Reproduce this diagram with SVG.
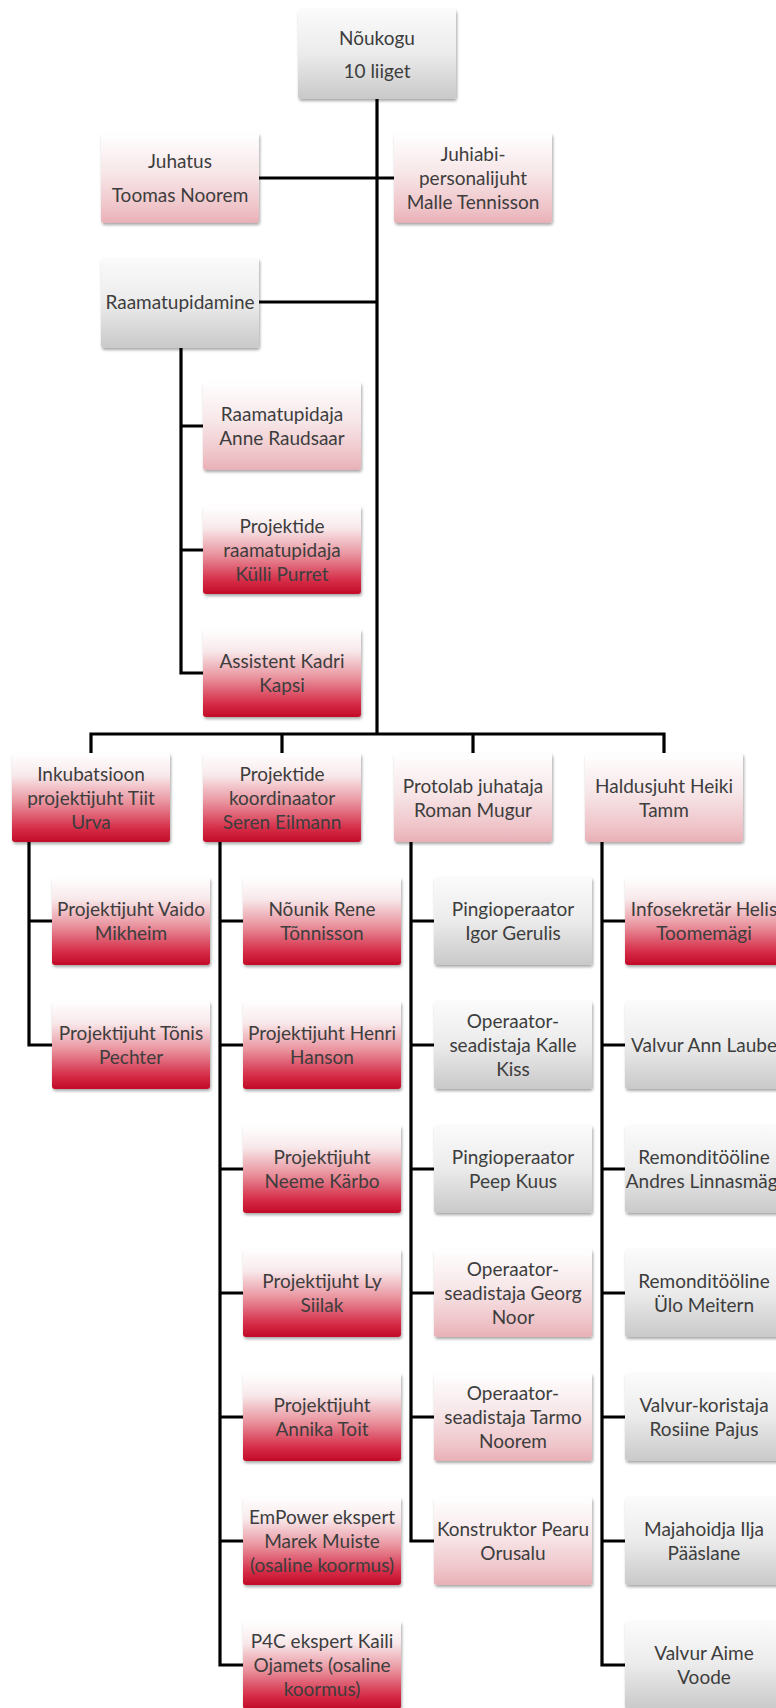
<svg xmlns="http://www.w3.org/2000/svg" width="776" height="1708" viewBox="0 0 776 1708">
<defs>
<linearGradient id="gRed" x1="0" y1="0" x2="0" y2="1">
<stop offset="0" stop-color="#ffffff"/>
<stop offset="0.25" stop-color="#f8e9eb"/>
<stop offset="0.55" stop-color="#e9949f"/>
<stop offset="0.85" stop-color="#d52c47"/>
<stop offset="1" stop-color="#c20b28"/>
</linearGradient>
<linearGradient id="gPink" x1="0" y1="0" x2="0" y2="1">
<stop offset="0" stop-color="#ffffff"/>
<stop offset="0.45" stop-color="#f7e6e8"/>
<stop offset="0.85" stop-color="#eec2c7"/>
<stop offset="1" stop-color="#e8b0b7"/>
</linearGradient>
<linearGradient id="gGrey" x1="0" y1="0" x2="0" y2="1">
<stop offset="0" stop-color="#fbfbfb"/>
<stop offset="0.5" stop-color="#ebebeb"/>
<stop offset="1" stop-color="#c9c9c9"/>
</linearGradient>
<filter id="sh" x="-10%" y="-10%" width="120%" height="130%">
<feDropShadow dx="1" dy="2" stdDeviation="1.5" flood-color="#000" flood-opacity="0.35"/>
</filter>
</defs>
<style>
rect.b{rx:3;ry:3;filter:url(#sh)}
.red{fill:url(#gRed)}
.pink{fill:url(#gPink)}
.grey{fill:url(#gGrey)}
text{font-family:Lato,"Liberation Sans",sans-serif;font-size:19px;fill:#3d3d3d;text-anchor:middle}
#connectors path{fill:none;stroke:#000;stroke-width:3.2;stroke-linejoin:miter}
</style>
<rect width="776" height="1708" fill="#fff"/>
<g id="connectors">
<path d="M377 99V734"/>
<path d="M259 178H394"/>
<path d="M259 302H377"/>
<path d="M181 348V673H203M181 426H203M181 550H203"/>
<path d="M91 753V734H664V753M282 734V753M473 734V753"/>
<path d="M29 842V1045H52M29 921H52"/>
<path d="M220 842V1665H243M220 921H243M220 1045H243M220 1169H243M220 1293H243M220 1417H243M220 1541H243"/>
<path d="M411 842V1541H434M411 921H434M411 1045H434M411 1169H434M411 1293H434M411 1417H434"/>
<path d="M602 842V1665H625M602 921H625M602 1045H625M602 1169H625M602 1293H625M602 1417H625M602 1541H625"/>
</g>
<g id="noukogu"><rect class="b grey" x="298" y="9" width="158" height="90"/><text x="377" y="45">Nõukogu</text><text x="377" y="78">10 liiget</text></g>
<g id="juhatus"><rect class="b pink" x="101" y="133" width="158" height="90"/><text x="180" y="168">Juhatus</text><text x="180" y="202">Toomas Noorem</text></g>
<g id="juhiabi"><rect class="b pink" x="394" y="133" width="158" height="90"/><text x="473" y="161">Juhiabi-</text><text x="473" y="185">personalijuht</text><text x="473" y="209">Malle Tennisson</text></g>
<g id="raamatupidamine"><rect class="b grey" x="101" y="258" width="158" height="90"/><text x="180" y="309">Raamatupidamine</text></g>
<g id="raamatupidaja"><rect class="b pink" x="203" y="382" width="158" height="88"/><text x="282" y="421">Raamatupidaja</text><text x="282" y="445">Anne Raudsaar</text></g>
<g id="proj-raamatupidaja"><rect class="b red" x="203" y="506" width="158" height="88"/><text x="282" y="533">Projektide</text><text x="282" y="557">raamatupidaja</text><text x="282" y="581">Külli Purret</text></g>
<g id="assistent"><rect class="b red" x="203" y="629" width="158" height="88"/><text x="282" y="668">Assistent Kadri</text><text x="282" y="692">Kapsi</text></g>
<g id="inkubatsioon"><rect class="b red" x="12" y="753" width="158" height="89"/><text x="91" y="780.5">Inkubatsioon</text><text x="91" y="804.5">projektijuht Tiit</text><text x="91" y="828.5">Urva</text></g>
<g id="proj-koordinaator"><rect class="b red" x="203" y="753" width="158" height="89"/><text x="282" y="780.5">Projektide</text><text x="282" y="804.5">koordinaator</text><text x="282" y="828.5">Seren Eilmann</text></g>
<g id="protolab"><rect class="b pink" x="394" y="753" width="158" height="89"/><text x="473" y="792.5">Protolab juhataja</text><text x="473" y="816.5">Roman Mugur</text></g>
<g id="haldusjuht"><rect class="b pink" x="585" y="753" width="158" height="89"/><text x="664" y="792.5">Haldusjuht Heiki</text><text x="664" y="816.5">Tamm</text></g>
<g id="vaido"><rect class="b red" x="52" y="877" width="158" height="88"/><text x="131" y="916">Projektijuht Vaido</text><text x="131" y="940">Mikheim</text></g>
<g id="tonis"><rect class="b red" x="52" y="1001" width="158" height="88"/><text x="131" y="1040">Projektijuht Tõnis</text><text x="131" y="1064">Pechter</text></g>
<g id="rene"><rect class="b red" x="243" y="877" width="158" height="88"/><text x="322" y="916">Nõunik Rene</text><text x="322" y="940">Tõnnisson</text></g>
<g id="henri"><rect class="b red" x="243" y="1001" width="158" height="88"/><text x="322" y="1040">Projektijuht Henri</text><text x="322" y="1064">Hanson</text></g>
<g id="neeme"><rect class="b red" x="243" y="1125" width="158" height="88"/><text x="322" y="1164">Projektijuht</text><text x="322" y="1188">Neeme Kärbo</text></g>
<g id="ly"><rect class="b red" x="243" y="1249" width="158" height="88"/><text x="322" y="1288">Projektijuht Ly</text><text x="322" y="1312">Siilak</text></g>
<g id="annika"><rect class="b red" x="243" y="1373" width="158" height="88"/><text x="322" y="1412">Projektijuht</text><text x="322" y="1436">Annika Toit</text></g>
<g id="marek"><rect class="b red" x="243" y="1497" width="158" height="88"/><text x="322" y="1524">EmPower ekspert</text><text x="322" y="1548">Marek Muiste</text><text x="322" y="1572">(osaline koormus)</text></g>
<g id="kaili"><rect class="b red" x="243" y="1621" width="158" height="88"/><text x="322" y="1648">P4C ekspert Kaili</text><text x="322" y="1672">Ojamets (osaline</text><text x="322" y="1696">koormus)</text></g>
<g id="igor"><rect class="b grey" x="434" y="877" width="158" height="88"/><text x="513" y="916">Pingioperaator</text><text x="513" y="940">Igor Gerulis</text></g>
<g id="kalle"><rect class="b grey" x="434" y="1001" width="158" height="88"/><text x="513" y="1028">Operaator-</text><text x="513" y="1052">seadistaja Kalle</text><text x="513" y="1076">Kiss</text></g>
<g id="peep"><rect class="b grey" x="434" y="1125" width="158" height="88"/><text x="513" y="1164">Pingioperaator</text><text x="513" y="1188">Peep Kuus</text></g>
<g id="georg"><rect class="b pink" x="434" y="1249" width="158" height="88"/><text x="513" y="1276">Operaator-</text><text x="513" y="1300">seadistaja Georg</text><text x="513" y="1324">Noor</text></g>
<g id="tarmo"><rect class="b pink" x="434" y="1373" width="158" height="88"/><text x="513" y="1400">Operaator-</text><text x="513" y="1424">seadistaja Tarmo</text><text x="513" y="1448">Noorem</text></g>
<g id="pearu"><rect class="b pink" x="434" y="1497" width="158" height="88"/><text x="513" y="1536">Konstruktor Pearu</text><text x="513" y="1560">Orusalu</text></g>
<g id="helis"><rect class="b red" x="625" y="877" width="158" height="88"/><text x="704" y="916">Infosekretär Helis</text><text x="704" y="940">Toomemägi</text></g>
<g id="ann"><rect class="b grey" x="625" y="1001" width="158" height="88"/><text x="704" y="1052">Valvur Ann Laube</text></g>
<g id="andres"><rect class="b grey" x="625" y="1125" width="158" height="88"/><text x="704" y="1164">Remonditööline</text><text x="704" y="1188">Andres Linnasmägi</text></g>
<g id="ulo"><rect class="b grey" x="625" y="1249" width="158" height="88"/><text x="704" y="1288">Remonditööline</text><text x="704" y="1312">Ülo Meitern</text></g>
<g id="rosiine"><rect class="b grey" x="625" y="1373" width="158" height="88"/><text x="704" y="1412">Valvur-koristaja</text><text x="704" y="1436">Rosiine Pajus</text></g>
<g id="ilja"><rect class="b grey" x="625" y="1497" width="158" height="88"/><text x="704" y="1536">Majahoidja Ilja</text><text x="704" y="1560">Pääslane</text></g>
<g id="aime"><rect class="b grey" x="625" y="1621" width="158" height="88"/><text x="704" y="1660">Valvur Aime</text><text x="704" y="1684">Voode</text></g>
</svg>
